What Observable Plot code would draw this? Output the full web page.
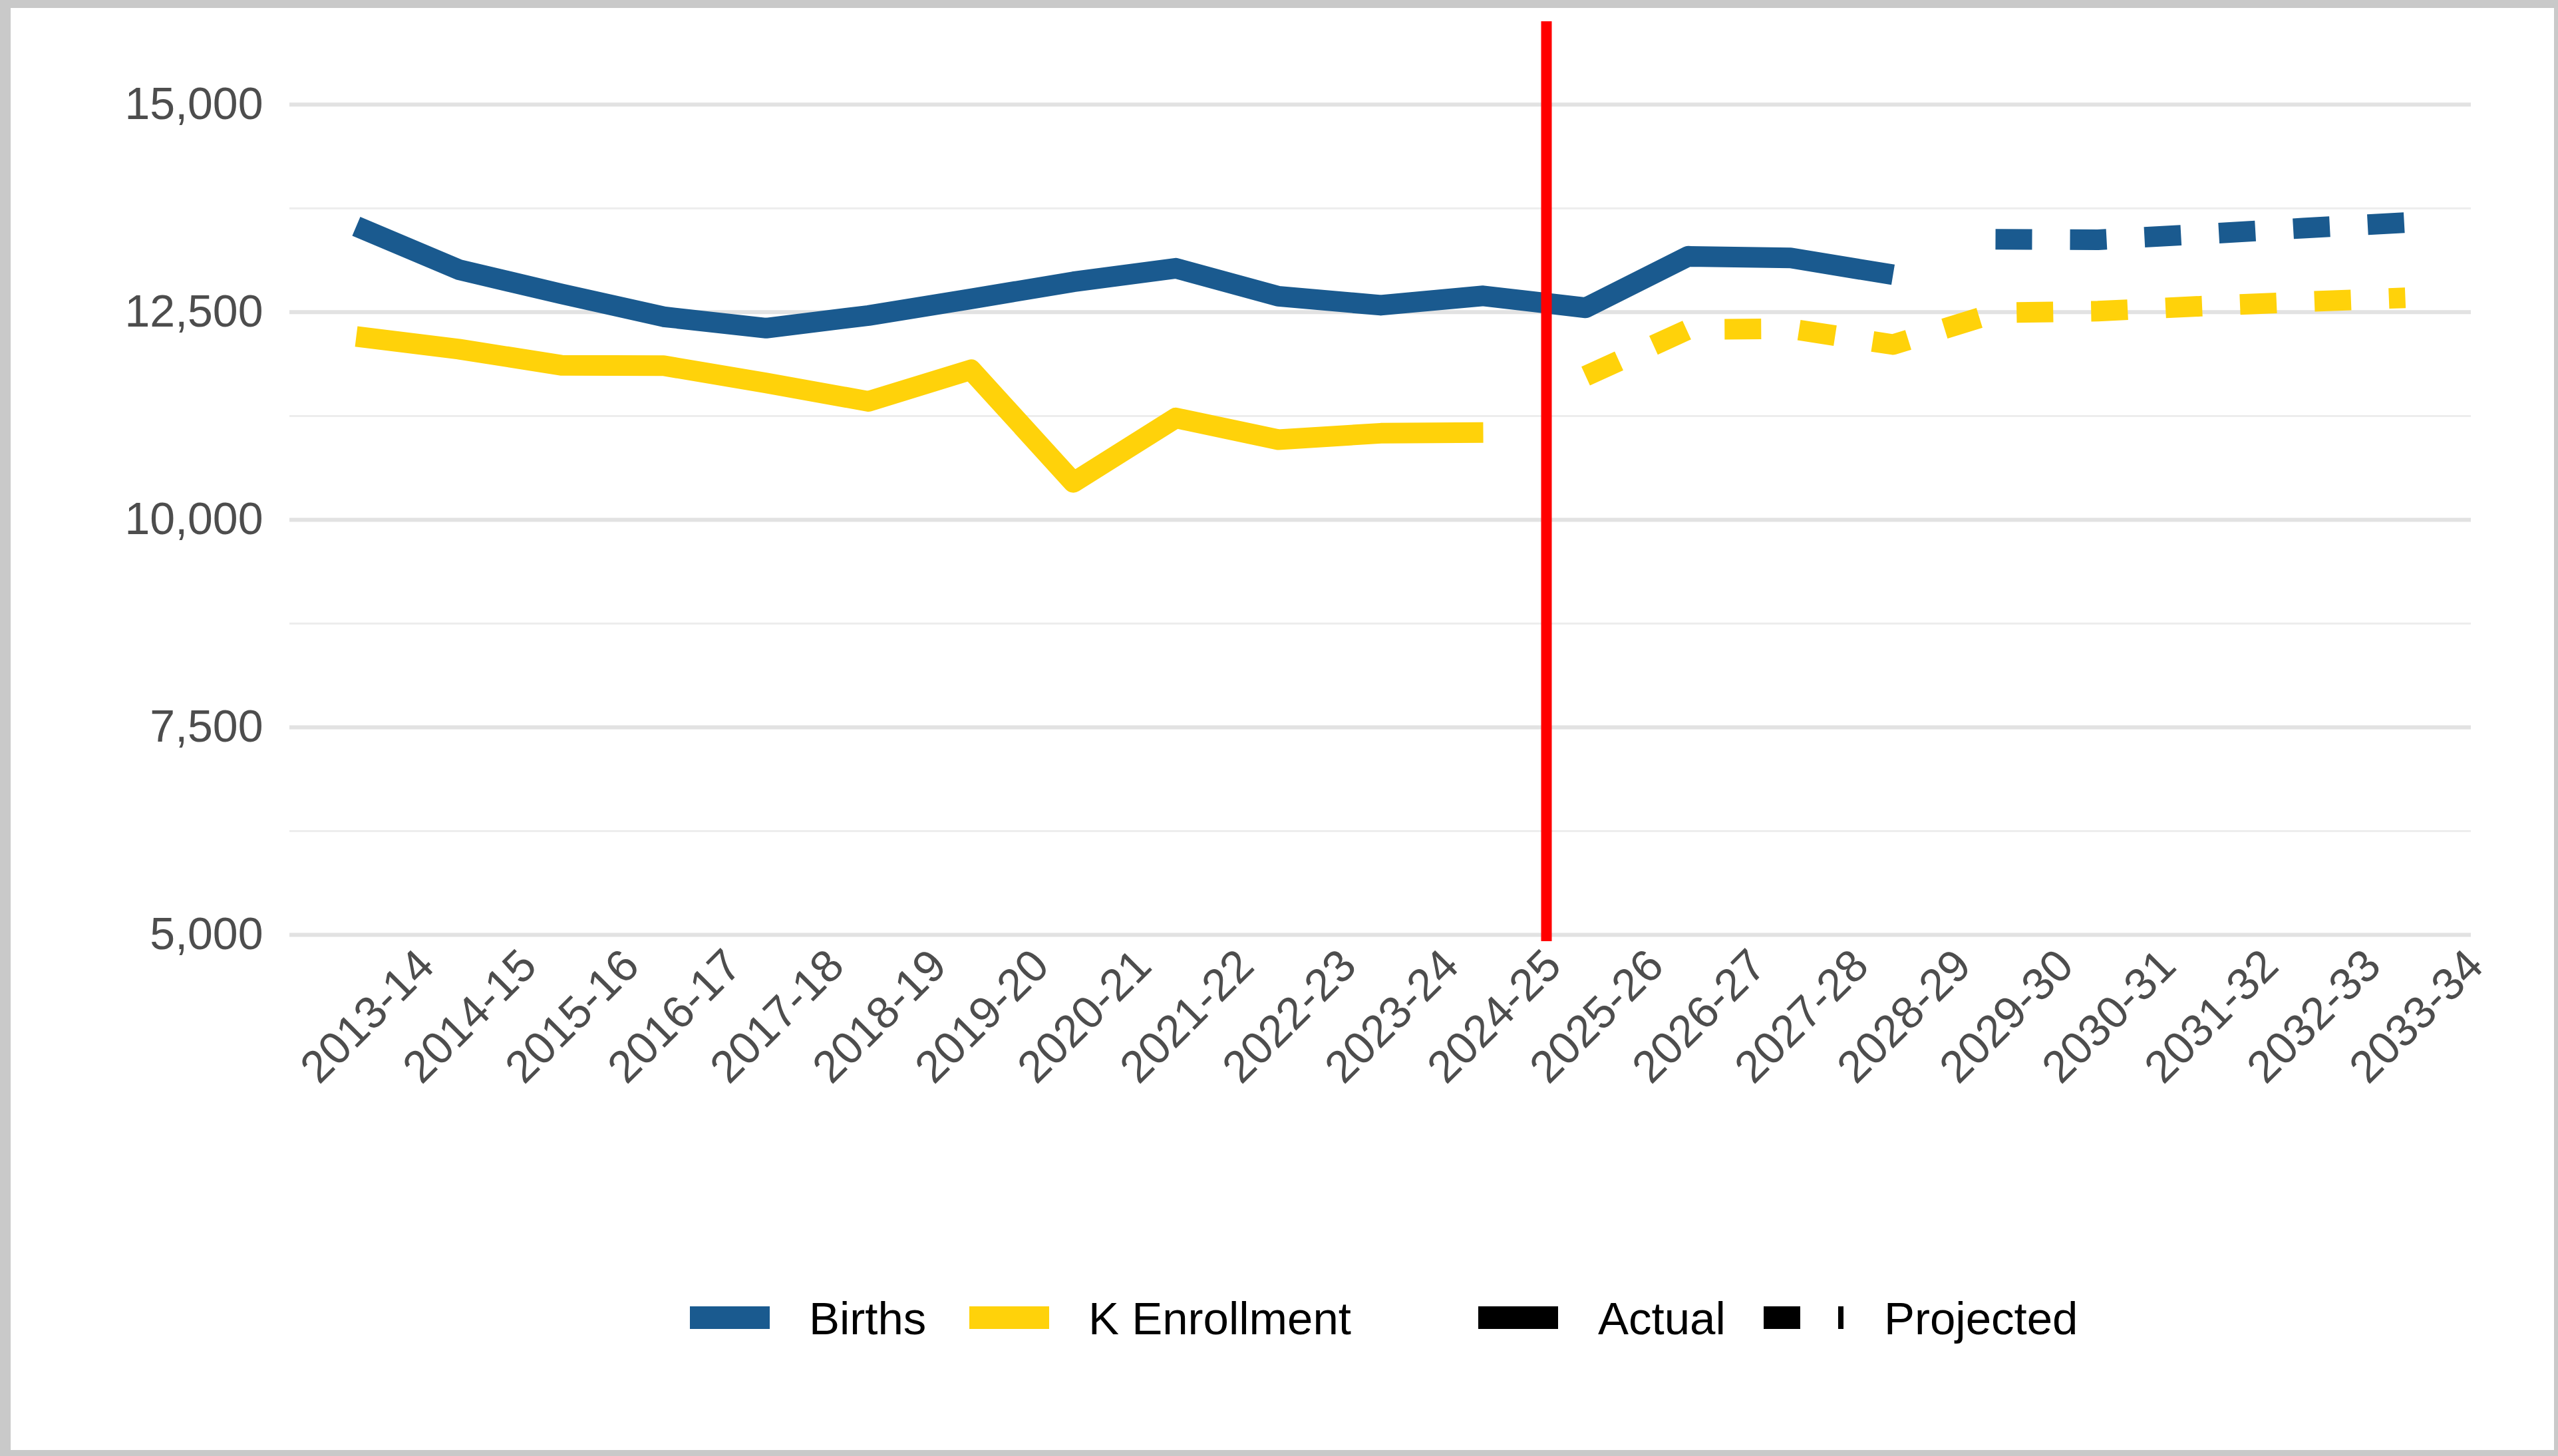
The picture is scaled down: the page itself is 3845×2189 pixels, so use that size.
<!DOCTYPE html>
<html>
<head>
<meta charset="utf-8">
<script src="https://cdn.jsdelivr.net/npm/d3@7"></script>
<script src="https://cdn.jsdelivr.net/npm/@observablehq/plot@0.6"></script>
<style>
  html, body { margin: 0; padding: 0; background: #c9c9c9; }
  #page { position: relative; width: 3845px; height: 2189px; background: #c9c9c9; overflow: hidden; }
  #inner { position: absolute; left: 16px; top: 12px; width: 3823px; height: 2168px; background: #ffffff; }
  #chart { position: absolute; left: 0; top: 0; }
  #legend { position: absolute; left: 0; top: 1700px; }
</style>
</head>
<body>
<div id="page">
  <div id="inner"></div>
  <div id="chart"></div>
  <div id="legend"></div>
</div>
<script>
// ---- Data ----
const seasons = ["2013-14","2014-15","2015-16","2016-17","2017-18","2018-19","2019-20","2020-21","2021-22","2022-23","2023-24","2024-25","2025-26","2026-27","2027-28","2028-29","2029-30","2030-31","2031-32","2032-33","2033-34"];
const birthsActual    = [13535,13013,12721,12445,12308,12460,12660,12866,13029,12692,12584,12697,12553,13173,13154,12951,null,null,null,null,null];
const birthsProjected = [null,null,null,null,null,null,null,null,null,null,null,null,null,null,null,null,13379,13373,13440,13512,13580];
const kActual         = [12208,12055,11861,11856,11647,11426,11806,10450,11226,10965,11042,11050,null,null,null,null,null,null,null,null,null];
const kProjected      = [null,null,null,null,null,null,null,null,null,null,null,null,11730,12292,12300,12110,12492,12513,12572,12625,12674];
const yTicks = [5000, 7500, 10000, 12500, 15000];
const yMinorTicks = [6250, 8750, 11250, 13750];
const seriesNames = ["Births", "K Enrollment"];
const statusNames = ["Actual", "Projected"];
const dividerSeason = "2024-25";

const colors = {"Births": "#1a5a8f", "K Enrollment": "#ffd20a"};
const dash = {"Actual": null, "Projected": "55,57"};

// build long table
const rows = [];
const sources = [
  ["Births", "Actual", birthsActual],
  ["Births", "Projected", birthsProjected],
  ["K Enrollment", "Actual", kActual],
  ["K Enrollment", "Projected", kProjected]
];
for (const [series, status, values] of sources) {
  seasons.forEach((season, i) => {
    if (values[i] != null) rows.push({season, series, status, value: values[i]});
  });
}

const FONT = "'Liberation Sans', Arial, Helvetica, sans-serif";

const lineMarks = [];
for (const [series, status] of sources.map(d => [d[0], d[1]])) {
  const data = rows.filter(d => d.series === series && d.status === status);
  const opts = {
    x: "season", y: "value",
    stroke: colors[series],
    strokeWidth: 31,
    strokeLinecap: "butt",
    strokeLinejoin: "round"
  };
  if (dash[status]) opts.strokeDasharray = dash[status];
  lineMarks.push(Plot.line(data, opts));
}

const chart = Plot.plot({
  width: 3845,
  height: 1700,
  marginLeft: 435,
  marginRight: 131,
  marginTop: 32,
  marginBottom: 285,
  style: {background: "transparent", fontFamily: FONT, fontSize: "68px", color: "#4d4d4d", overflow: "visible"},
  x: {type: "point", domain: seasons, padding: 0.6, axis: null},
  y: {domain: [4920, 16000], axis: null, label: null},
  marks: [
    Plot.gridY(yMinorTicks, {stroke: "#ededed", strokeOpacity: 1, strokeWidth: 3}),
    Plot.gridY(yTicks, {stroke: "#e2e2e2", strokeOpacity: 1, strokeWidth: 6}),
    Plot.axisY(yTicks, {tickSize: 0, tickPadding: 40, tickFormat: d3.format(","), fill: "#4d4d4d", label: null}),
    Plot.text(seasons, {
      x: d => d, frameAnchor: "bottom", dy: 113, dx: 17,
      rotate: -45, textAnchor: "middle", lineAnchor: "middle",
      fill: "#4d4d4d"
    }),
    ...lineMarks,
    Plot.ruleX([dividerSeason], {dx: 95, stroke: "#ff0000", strokeWidth: 16})
  ]
});
document.getElementById("chart").appendChild(chart);

// ---- Legend (below the chart SVG) ----
const lg = d3.select("#legend").append("svg")
  .attr("width", 3845).attr("height", 480)
  .style("font-family", FONT).style("font-size", "69px");
const keyY = 281, textY = 306;
const legendItems = [
  {label: seriesNames[0], color: colors["Births"], dash: null, kx: 1037, tx: 1216},
  {label: seriesNames[1], color: colors["K Enrollment"], dash: null, kx: 1457, tx: 1636},
  {label: statusNames[0], color: "#000000", dash: null, kx: 2222, tx: 2402},
  {label: statusNames[1], color: "#000000", dash: dash["Projected"], kx: 2651, tx: 2832}
];
for (const it of legendItems) {
  lg.append("line")
    .attr("x1", it.kx).attr("x2", it.kx + 120)
    .attr("y1", keyY).attr("y2", keyY)
    .attr("stroke", it.color).attr("stroke-width", 34)
    .attr("stroke-dasharray", it.dash);
  lg.append("text").attr("x", it.tx).attr("y", textY).attr("fill", "#000").text(it.label);
}
</script>
</body>
</html>
